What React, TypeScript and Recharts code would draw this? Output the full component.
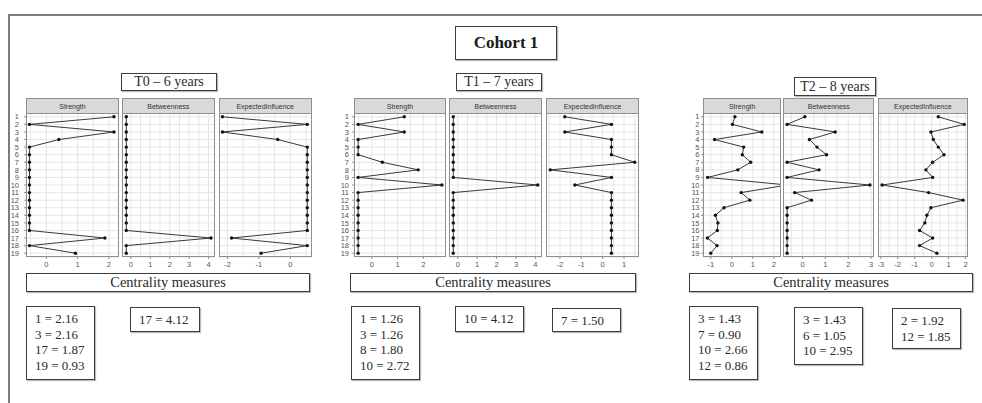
import { LineChart, Line, XAxis, YAxis, CartesianGrid } from 'recharts';

// node ids on the vertical axis
const nodes = ['1', '2', '3', '4', '5', '6', '7', '8', '9', '10', '11', '12', '13', '14', '15', '16', '17', '18', '19'];

const facetNames = ['Strength', 'Betweenness', 'ExpectedInfluence'];

// T0 – 6 years
const t0Strength = [2.16, -0.54, 2.16, 0.40, -0.54, -0.54, -0.54, -0.54, -0.54, -0.54, -0.54, -0.54, -0.54, -0.54, -0.54, -0.54, 1.87, -0.54, 0.93];
const t0Betweenness = [-0.23, -0.23, -0.23, -0.23, -0.23, -0.23, -0.23, -0.23, -0.23, -0.23, -0.23, -0.23, -0.23, -0.23, -0.23, -0.23, 4.12, -0.23, -0.23];
const t0Expected = [-2.16, 0.54, -2.16, -0.40, 0.54, 0.54, 0.54, 0.54, 0.54, 0.54, 0.54, 0.54, 0.54, 0.54, 0.54, 0.54, -1.87, 0.54, -0.93];

// T1 – 7 years
const t1Strength = [1.26, -0.53, 1.26, -0.53, -0.53, -0.53, 0.41, 1.80, -0.53, 2.72, -0.53, -0.53, -0.53, -0.53, -0.53, -0.53, -0.53, -0.53, -0.53];
const t1Betweenness = [-0.23, -0.23, -0.23, -0.23, -0.23, -0.23, -0.23, -0.23, -0.23, 4.12, -0.23, -0.23, -0.23, -0.23, -0.23, -0.23, -0.23, -0.23, -0.23];
const t1Expected = [-1.77, 0.41, -1.77, 0.41, 0.41, 0.41, 1.50, -2.45, 0.41, -1.30, 0.41, 0.41, 0.41, 0.41, 0.41, 0.41, 0.41, 0.41, 0.41];

// T2 – 8 years
const t2Strength = [0.15, 0.03, 1.43, -0.82, 0.57, 0.50, 0.90, 0.29, -1.15, 2.66, 0.45, 0.86, -0.37, -0.78, -0.66, -0.69, -1.16, -0.70, -1.00];
const t2Betweenness = [0.10, -0.68, 1.43, 0.30, 0.63, 1.05, -0.68, 0.72, -0.68, 2.95, -0.35, 0.39, -0.68, -0.68, -0.68, -0.68, -0.68, -0.68, -0.68];
const t2Expected = [0.39, 1.92, -0.04, 0.10, 0.39, 0.73, 0.06, -0.34, 0.06, -2.92, -0.18, 1.85, -0.04, -0.28, -0.40, -0.71, 0.06, -0.71, 0.31];

// x tick labels per facet
const t0Ticks = [[0, 1, 2], [0, 1, 2, 3, 4], [-2, -1, 0]];
const t1Ticks = [[0, 1, 2], [0, 1, 2, 3, 4], [-2, -1, 0, 1]];
const t2Ticks = [[-1, 0, 1, 2], [0, 1, 2, 3], [-3, -2, -1, 0, 1, 2]];

// nodes listed in the boxes under each facet
const t0Listed = [[1, 3, 17, 19], [17], []];
const t1Listed = [[1, 3, 8, 10], [10], [7]];
const t2Listed = [[3, 7, 10, 12], [3, 6, 10], [2, 12]];

const STRIP_TOP = 98;
const PANEL_TOP = 113;
const PANEL_H = 144;
const AXIS_H = 16;
const Y_W = 20;
const BORDER = '#8f8f8f';
const SANS = '"Liberation Sans", Arial, sans-serif';
const SERIF = '"Liberation Serif", "Times New Roman", serif';

type Rect = [number, number, number, number];

type Facet = {
  values: number[];
  ticks: number[];
  domain: [number, number];
  left: number;
  width: number;
  listed: number[];
  box: Rect | null;
};

type Group = {
  title: string;
  titleBox: Rect;
  yGap: number;
  measureBox: Rect;
  facets: Facet[];
};

const groups: Group[] = [
  {
    title: 'T0 – 6 years',
    titleBox: [121, 73, 96, 18],
    yGap: 5,
    measureBox: [26, 273, 284, 19],
    facets: [
      { values: t0Strength, ticks: t0Ticks[0], domain: [-0.65, 2.34], left: 25.7, width: 93.6, listed: t0Listed[0], box: [26, 306, 69, 74] },
      { values: t0Betweenness, ticks: t0Ticks[1], domain: [-0.45, 4.34], left: 121.7, width: 93.3, listed: t0Listed[1], box: [130, 307, 70, 25] },
      { values: t0Expected, ticks: t0Ticks[2], domain: [-2.27, 0.69], left: 218.7, width: 93, listed: t0Listed[2], box: null },
    ],
  },
  {
    title: 'T1 – 7 years',
    titleBox: [456, 73, 86, 18],
    yGap: 3,
    measureBox: [350, 273, 286, 19],
    facets: [
      { values: t1Strength, ticks: t1Ticks[0], domain: [-0.69, 2.88], left: 354, width: 92, listed: t1Listed[0], box: [351, 306, 69, 74] },
      { values: t1Betweenness, ticks: t1Ticks[1], domain: [-0.45, 4.34], left: 449, width: 93, listed: t1Listed[1], box: [455, 306, 69, 26] },
      { values: t1Expected, ticks: t1Ticks[2], domain: [-2.65, 1.70], left: 546, width: 93, listed: t1Listed[2], box: [552, 308, 69, 24] },
    ],
  },
  {
    title: 'T2 – 8 years',
    titleBox: [794, 77, 82, 19],
    yGap: 1.5,
    measureBox: [689, 273, 284, 19],
    facets: [
      { values: t2Strength, ticks: t2Ticks[0], domain: [-1.37, 2.33], left: 703.3, width: 77.7, listed: t2Listed[0], box: [689, 306, 69, 74] },
      { values: t2Betweenness, ticks: t2Ticks[1], domain: [-0.86, 3.13], left: 783.3, width: 91, listed: t2Listed[1], box: [794, 307, 69, 58] },
      { values: t2Expected, ticks: t2Ticks[2], domain: [-3.16, 2.16], left: 877.7, width: 90.3, listed: t2Listed[2], box: [892, 308, 69, 41] },
    ],
  },
];

// major ticks plus the half steps between them, for the grid
function gridTicks(domain: [number, number]) {
  const out: number[] = [];
  for (let v = Math.ceil(domain[0] * 2) / 2; v <= domain[1]; v += 0.5) out.push(v);
  return out;
}

function XTick(props: any) {
  const { x, y, payload, majors } = props;
  if (!majors.includes(payload.value)) return <g />;
  return (
    <g>
      <line x1={x} x2={x} y1={y - 5} y2={y - 3} stroke="#777" strokeWidth={0.8} />
      <text x={x} y={y} dy="0.71em" textAnchor="middle" fontSize={7.5} fill="#555" fontFamily={SANS}>
        {payload.value}
      </text>
    </g>
  );
}

function Panel({ f, name, showY, yGap }: { f: Facet; name: string; showY: boolean; yGap: number }) {
  const data = nodes.map((n, i) => ({ node: n, value: f.values[i] }));
  const extra = showY ? Y_W : 0;
  return (
    <>
      <div
        style={{
          position: 'absolute', left: f.left, top: STRIP_TOP, width: f.width, height: PANEL_TOP - STRIP_TOP + 1,
          boxSizing: 'border-box', background: '#d9d9d9', border: `1px solid ${BORDER}`,
          fontFamily: SANS, fontSize: 7, color: '#333', display: 'flex', alignItems: 'center', justifyContent: 'center',
        }}
      >
        {name}
      </div>
      <div style={{ position: 'absolute', left: f.left - extra, top: PANEL_TOP, fontFamily: SANS }}>
        <LineChart layout="vertical" width={f.width + extra} height={PANEL_H + AXIS_H} data={data} margin={{ top: 0, right: 0, bottom: 0, left: 0 }}>
          <CartesianGrid stroke="#e0e0e0" strokeWidth={0.8} />
          <XAxis
            type="number"
            domain={f.domain}
            allowDataOverflow
            ticks={gridTicks(f.domain)}
            interval={0}
            height={AXIS_H}
            axisLine={false}
            tickLine={false}
            tickSize={3}
            tickMargin={2}
            tick={(p: any) => <XTick {...p} majors={f.ticks} />}
          />
          <YAxis
            type="category"
            dataKey="node"
            hide={!showY}
            width={Y_W}
            padding={{ top: 3.8, bottom: 3.8 }}
            interval={0}
            axisLine={false}
            tickSize={2}
            tickMargin={yGap}
            tick={{ fontSize: 7.5, fill: '#555' }}
            tickLine={{ stroke: '#777', strokeWidth: 0.8 }}
          />
          <Line
            dataKey="value"
            type="linear"
            stroke="#222"
            strokeWidth={0.9}
            dot={{ r: 1.7, fill: '#111', stroke: 'none' }}
            isAnimationActive={false}
          />
        </LineChart>
      </div>
      <div
        style={{
          position: 'absolute', left: f.left, top: PANEL_TOP, width: f.width, height: PANEL_H,
          boxSizing: 'border-box', border: `1px solid ${BORDER}`, pointerEvents: 'none',
        }}
      />
    </>
  );
}

function Box({ r, children, style }: { r: Rect; children: any; style?: any }) {
  return (
    <div
      style={{
        position: 'absolute', left: r[0], top: r[1], width: r[2], height: r[3], boxSizing: 'border-box',
        border: '1.5px solid #3c3c3c', boxShadow: '1px 1px 1px #bbb', fontFamily: SERIF, color: '#2b2b2b', ...style,
      }}
    >
      {children}
    </div>
  );
}

export default function App() {
  return (
    <div style={{ position: 'fixed', left: 0, top: 0, width: 982, height: 403, background: '#fff', overflow: 'hidden' }}>
      <div style={{ position: 'absolute', left: 8, top: 14, width: 980, height: 395, borderTop: '2px solid #7d7d7d', borderLeft: '2px solid #7d7d7d' }} />
      <Box r={[455, 26, 102, 34]} style={{ display: 'flex', alignItems: 'center', justifyContent: 'center', fontWeight: 'bold', fontSize: 17, color: '#1a1a1a' }}>
        Cohort 1
      </Box>
      {groups.map((g) => (
        <div key={g.title}>
          <Box r={g.titleBox} style={{ display: 'flex', alignItems: 'center', justifyContent: 'center', fontSize: 14 }}>
            {g.title}
          </Box>
          {g.facets.map((f, i) => (
            <Panel key={i} f={f} name={facetNames[i]} showY={i === 0} yGap={g.yGap} />
          ))}
          <Box r={g.measureBox} style={{ display: 'flex', alignItems: 'center', justifyContent: 'center', fontSize: 14.5 }}>
            Centrality measures
          </Box>
          {g.facets.map((f, i) =>
            f.box ? (
              <Box key={'b' + i} r={f.box} style={{ fontSize: 13, lineHeight: '15.5px', padding: '4px 0 0 8px' }}>
                {f.listed.map((n) => (
                  <div key={n}>{`${n} = ${f.values[n - 1].toFixed(2)}`}</div>
                ))}
              </Box>
            ) : null
          )}
        </div>
      ))}
    </div>
  );
}
